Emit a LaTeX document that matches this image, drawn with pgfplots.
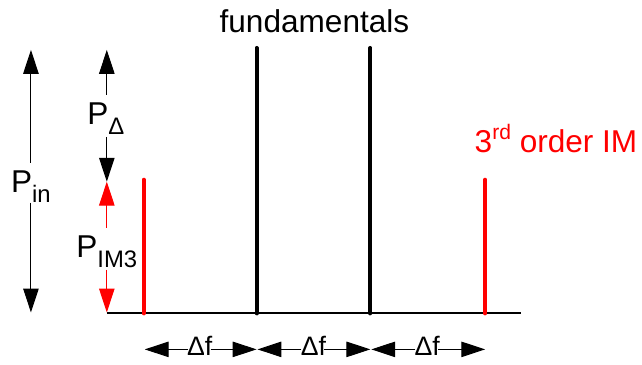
\documentclass[border=0pt]{standalone}
\usepackage{pgfplots}
\pgfplotsset{compat=1.18}
\usetikzlibrary{arrows.meta}
\usepackage{fontspec}
\setmainfont{Liberation Sans}
\newcommand{\lbl}{\fontsize{22.5}{26}\selectfont}
\newcommand{\sub}[1]{\raisebox{-0.3em}{\fontsize{17}{17}\selectfont #1}}
\begin{document}
\begin{tikzpicture}
\begin{axis}[
  scale only axis, width=16.05cm, height=9.125cm,
  xmin=0, xmax=642, ymin=0, ymax=365,
  hide axis, clip=false,
  arr/.style={line width=0.7pt, -{Triangle[length=17pt,width=11pt]}},
]
% frame for the page size
\addplot[draw=none] coordinates {(0,0) (642,365)};
% baseline
\addplot[black, line width=1.4pt] coordinates {(107,51) (522,51)};
% fundamentals
\addplot[black, line width=2.8pt, line cap=round] coordinates {(257,51) (257,317)};
\addplot[black, line width=2.8pt, line cap=round] coordinates {(371,51) (371,317)};
% 3rd order IM products
\addplot[red, line width=2.8pt, line cap=round] coordinates {(144,51) (144,185)};
\addplot[red, line width=2.8pt, line cap=round] coordinates {(486,51) (486,185)};
% P_in
\addplot[arr] coordinates {(31,202) (31,315)};
\addplot[arr] coordinates {(31,162) (31,52)};
% P_Delta
\addplot[arr] coordinates {(107,270) (107,315)};
\addplot[arr] coordinates {(107,228) (107,183)};
% P_IM3
\addplot[arr, red] coordinates {(107,137) (107,183)};
\addplot[arr, red] coordinates {(107,95) (107,52)};
% delta f arrows
\addplot[arr] coordinates {(188,15) (145,15)};
\addplot[arr] coordinates {(211,15) (257,15)};
\addplot[arr] coordinates {(302,15) (258,15)};
\addplot[arr] coordinates {(325,15) (371,15)};
\addplot[arr] coordinates {(416,15) (372,15)};
\addplot[arr] coordinates {(439,15) (486,15)};
% labels
\node[anchor=base] at (axis cs:315,332) {\lbl fundamentals};
\node[anchor=base, text=red] at (axis cs:557,212) {\lbl 3\raisebox{0.42em}{\fontsize{15}{15}\selectfont rd} order IM};
\node[anchor=base, inner sep=0pt] at (axis cs:31,172) {\lbl P\sub{in}};
\node[anchor=base, inner sep=0pt] at (axis cs:106,240) {\lbl P\sub{Δ}};
\node[anchor=base, inner sep=0pt] at (axis cs:107,107) {\lbl P\sub{IM3}};
\node[anchor=base, inner sep=0pt] at (axis cs:200,9) {\fontsize{19}{22}\selectfont Δf};
\node[anchor=base, inner sep=0pt] at (axis cs:314,9) {\fontsize{19}{22}\selectfont Δf};
\node[anchor=base, inner sep=0pt] at (axis cs:428,9) {\fontsize{19}{22}\selectfont Δf};
\end{axis}
\end{tikzpicture}
\end{document}
